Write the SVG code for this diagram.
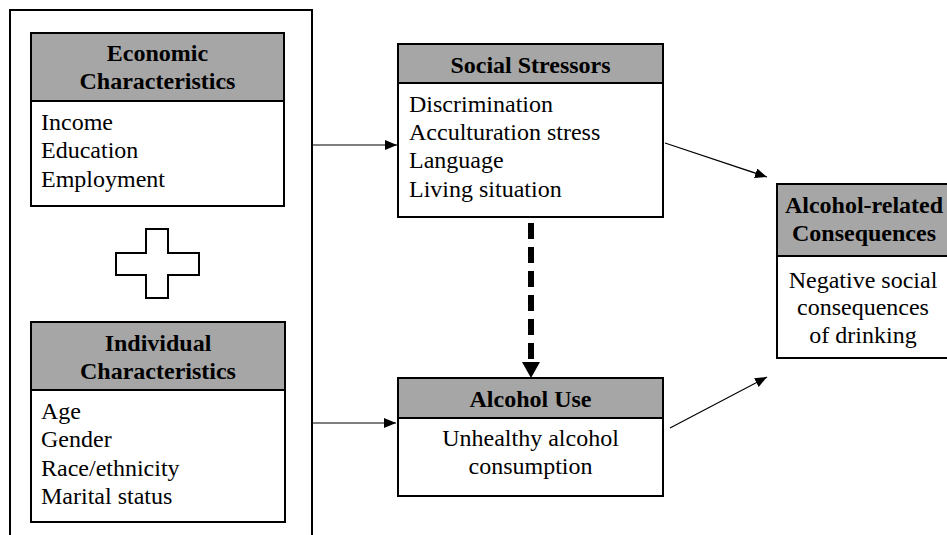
<svg xmlns="http://www.w3.org/2000/svg" width="947" height="535" viewBox="0 0 947 535">
  <style>
    .box { fill: #ffffff; stroke: #000000; stroke-width: 2; }
    .head { fill: #a6a6a6; stroke: #000000; stroke-width: 2; }
    .frame { fill: none; stroke: #000000; stroke-width: 2; }
    .title { font-family: "Liberation Serif", "Times New Roman", serif; font-size: 24px; font-weight: bold; fill: #000000; text-anchor: middle; }
    .item { font-family: "Liberation Serif", "Times New Roman", serif; font-size: 24px; fill: #000000; }
    .center { text-anchor: middle; }
    .link { fill: none; stroke: #000000; stroke-width: 1.2; }
    .dash { fill: none; stroke: #000000; stroke-width: 6; stroke-dasharray: 16 8; }
  </style>
  <defs>
    <marker id="arrow" viewBox="0 0 12 10" refX="12" refY="5" markerWidth="12" markerHeight="10" markerUnits="userSpaceOnUse" orient="auto">
      <path d="M0,0 L12,5 L0,10 Z" fill="#000000"/>
    </marker>
  </defs>

  <rect width="947" height="535" fill="#ffffff"/>

  <!-- outer frame grouping the economic and individual characteristics -->
  <g id="frame">
    <rect class="frame" x="10" y="10" width="302" height="540"/>
  </g>

  <g id="economic">
    <rect class="box" x="31" y="33" width="253" height="173"/>
    <rect class="head" x="31" y="33" width="253" height="68"/>
    <text class="title" x="157.5" y="61">Economic</text>
    <text class="title" x="157.5" y="89">Characteristics</text>
    <text class="item" x="41" y="130">Income</text>
    <text class="item" x="41" y="158">Education</text>
    <text class="item" x="41" y="187">Employment</text>
  </g>

  <g id="plus">
    <path class="frame" d="M146,229 H168 V253 H199 V275 H168 V298 H146 V275 H116 V253 H146 Z"/>
  </g>

  <g id="individual">
    <rect class="box" x="31" y="322" width="254" height="200"/>
    <rect class="head" x="31" y="322" width="254" height="68"/>
    <text class="title" x="158" y="351">Individual</text>
    <text class="title" x="158" y="379">Characteristics</text>
    <text class="item" x="41" y="419">Age</text>
    <text class="item" x="41" y="447">Gender</text>
    <text class="item" x="41" y="476">Race/ethnicity</text>
    <text class="item" x="41" y="504">Marital status</text>
  </g>

  <g id="stressors">
    <rect class="box" x="398" y="44" width="265" height="173"/>
    <rect class="head" x="398" y="44" width="265" height="39"/>
    <text class="title" x="530.5" y="73">Social Stressors</text>
    <text class="item" x="409" y="112">Discrimination</text>
    <text class="item" x="409" y="140">Acculturation stress</text>
    <text class="item" x="409" y="168">Language</text>
    <text class="item" x="409" y="197">Living situation</text>
  </g>

  <g id="alcohol-use">
    <rect class="box" x="398" y="378" width="265" height="118"/>
    <rect class="head" x="398" y="378" width="265" height="40"/>
    <text class="title" x="530.5" y="407">Alcohol Use</text>
    <text class="item center" x="530.5" y="446">Unhealthy alcohol</text>
    <text class="item center" x="530.5" y="474">consumption</text>
  </g>

  <g id="consequences">
    <rect class="box" x="777" y="184" width="178" height="174"/>
    <rect class="head" x="777" y="184" width="178" height="72"/>
    <text class="title" x="864" y="213">Alcohol-related</text>
    <text class="title" x="864" y="241">Consequences</text>
    <text class="item center" x="863" y="288">Negative social</text>
    <text class="item center" x="863" y="315">consequences</text>
    <text class="item center" x="863" y="343">of drinking</text>
  </g>

  <g id="connectors">
    <line class="link" x1="312" y1="145" x2="397" y2="145" marker-end="url(#arrow)"/>
    <line class="link" x1="312" y1="423" x2="396" y2="423" marker-end="url(#arrow)"/>
    <line class="link" x1="665" y1="143" x2="767" y2="177" marker-end="url(#arrow)"/>
    <line class="link" x1="670" y1="428" x2="767" y2="377" marker-end="url(#arrow)"/>
    <line class="dash" x1="531" y1="223" x2="531" y2="359"/>
    <path d="M522,362 L540,362 L531,378 Z" fill="#000000"/>
  </g>
</svg>
